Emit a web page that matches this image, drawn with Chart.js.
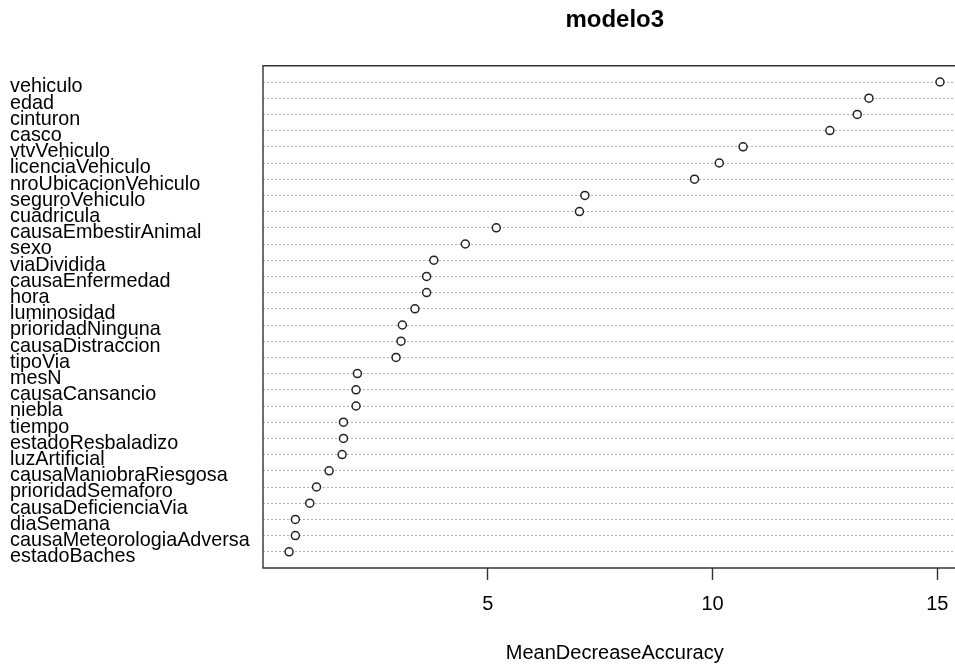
<!DOCTYPE html>
<html>
<head>
<meta charset="utf-8">
<script src="https://cdn.jsdelivr.net/npm/chart.js@4/dist/chart.umd.min.js"></script>
<style>
  html, body { margin: 0; padding: 0; overflow: hidden; background: #fff; }
  #grafico { position: absolute; left: 0; top: 0; }
</style>
</head>
<body>
<canvas id="grafico" width="972" height="665"></canvas>
<script>
// variables, ordered top to bottom
const variables = [
  "vehiculo", "edad", "cinturon", "casco", "vtvVehiculo", "licenciaVehiculo",
  "nroUbicacionVehiculo", "seguroVehiculo", "cuadricula", "causaEmbestirAnimal",
  "sexo", "viaDividida", "causaEnfermedad", "hora", "luminosidad",
  "prioridadNinguna", "causaDistraccion", "tipoVia", "mesN", "causaCansancio",
  "niebla", "tiempo", "estadoResbaladizo", "luzArtificial", "causaManiobraRiesgosa",
  "prioridadSemaforo", "causaDeficienciaVia", "diaSemana",
  "causaMeteorologiaAdversa", "estadoBaches"
];

// MeanDecreaseAccuracy
const meanDecreaseAccuracy = [
  15.06, 13.48, 13.22, 12.61, 10.68, 10.15,
  9.60, 7.16, 7.04, 5.19,
  4.50, 3.80, 3.64, 3.64, 3.38,
  3.10, 3.07, 2.96, 2.10, 2.07,
  2.07, 1.79, 1.79, 1.76, 1.47,
  1.19, 1.04, 0.72,
  0.72, 0.58
];

const xTicks = [5, 10, 15];

const puntos = meanDecreaseAccuracy.map((v, i) => ({ x: v, y: i + 1 }));

// frame around the plot area (the right side falls outside the window)
const marco = {
  id: "marco",
  afterDraw(chart) {
    const { ctx, chartArea: a } = chart;
    ctx.save();
    ctx.strokeStyle = "#333";
    ctx.lineWidth = 1.4;
    ctx.beginPath();
    ctx.moveTo(a.right, a.top);
    ctx.lineTo(a.left, a.top);
    ctx.lineTo(a.left, a.bottom);
    ctx.lineTo(a.right, a.bottom);
    ctx.stroke();
    ctx.restore();
  }
};

const fuente = "'Liberation Sans', Arial, sans-serif";

new Chart(document.getElementById("grafico"), {
  type: "scatter",
  data: {
    datasets: [{
      data: puntos,
      pointRadius: 4,
      pointHoverRadius: 4,
      pointBorderWidth: 1.5,
      borderColor: "#222",
      backgroundColor: "#fff"
    }]
  },
  options: {
    responsive: false,
    animation: false,
    layout: { padding: { left: 10, right: 4, top: 0, bottom: 0 } },
    plugins: {
      legend: { display: false },
      tooltip: { enabled: false },
      title: {
        display: true,
        text: "modelo3",
        fullSize: false,
        color: "#000",
        font: { family: fuente, size: 24, weight: "bold" },
        padding: { top: 6, bottom: 31 }
      }
    },
    scales: {
      x: {
        type: "linear",
        min: 0,
        max: 15.65,
        afterBuildTicks: s => { s.ticks = xTicks.map(v => ({ value: v })); },
        afterFit: s => { s.height = 97; },
        border: { display: false },
        grid: {
          drawOnChartArea: false,
          drawTicks: true,
          tickLength: 12,
          tickColor: "#333",
          tickWidth: 1.4
        },
        ticks: {
          color: "#000",
          padding: 12,
          font: { family: fuente, size: 20 }
        },
        title: {
          display: true,
          text: "MeanDecreaseAccuracy",
          color: "#000",
          font: { family: fuente, size: 20 },
          padding: { top: 0, bottom: 0 }
        }
      },
      y: {
        type: "linear",
        reverse: true,
        min: 0,
        max: 31,
        afterBuildTicks: s => {
          s.ticks = variables.map((n, i) => ({ value: i + 1 }));
        },
        afterFit: s => { s.width = 253; },
        border: { display: false, dash: [2, 2] },
        grid: {
          drawTicks: false,
          color: "#b0b0b0",
          lineWidth: 1
        },
        ticks: {
          autoSkip: false,
          crossAlign: "far",
          labelOffset: 5,
          color: "#000",
          font: { family: fuente, size: 19.8 },
          callback: v => variables[v - 1] || ""
        }
      }
    }
  },
  plugins: [marco]
});
</script>
</body>
</html>
